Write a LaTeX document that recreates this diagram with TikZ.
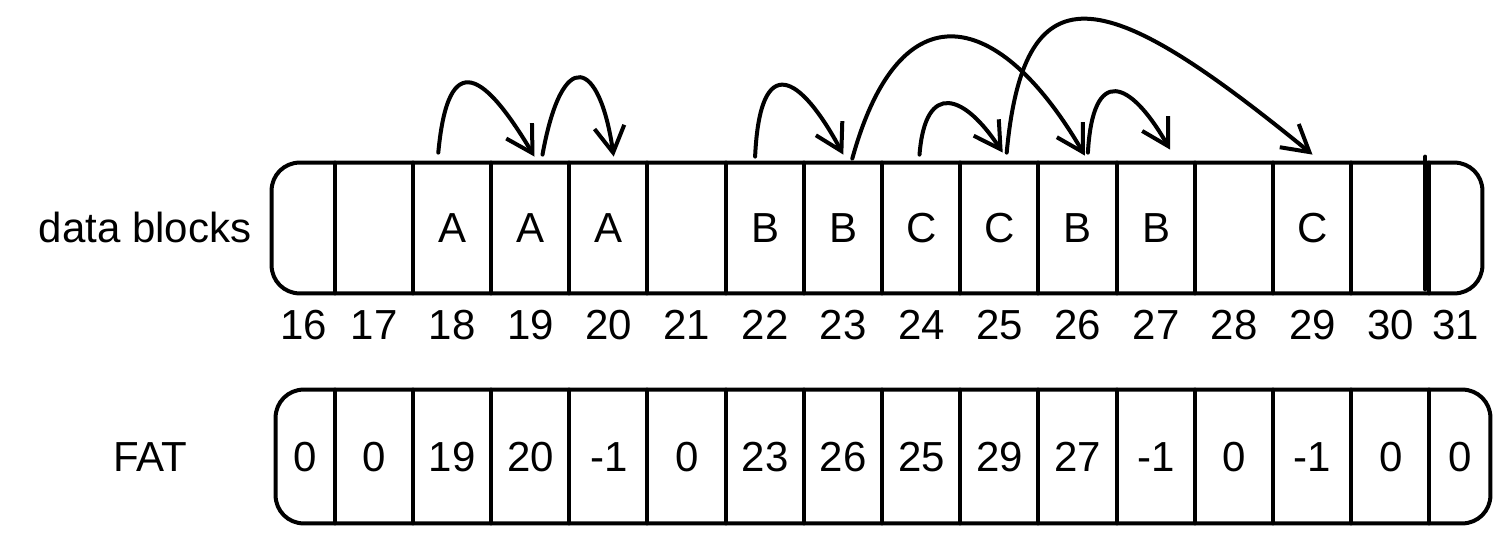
\documentclass[tikz,border=0pt]{standalone}
\usepackage{fontspec}
\setmainfont{Liberation Sans}
\usetikzlibrary{arrows.meta, positioning}

\begin{document}
\begin{tikzpicture}[x=0.5pt, y=-0.5pt,
    line/.style={draw, line width=2pt, line cap=round},
    cell/.style={inner sep=0pt, text height=15pt, text depth=0pt, font=\fontsize{21}{25}\selectfont},
    num/.style={inner sep=2pt, text height=15pt, text depth=0pt, font=\fontsize{21}{25}\selectfont},
    hop/.style={line, -{Straight Barb[length=13pt, width=15pt]}}]
  \useasboundingbox (0,0) rectangle (1512,545);

  % data blocks row
  \foreach \n/\t [count=\i from 0] in {16/{},17/{},18/A,19/A,20/A,21/{},22/B,23/B,
      24/C,25/C,26/B,27/B,28/{},29/C,30/{},31/{}}{
    \pgfmathsetmacro\xl{\i==0 ? 272 : 335+78.2*(\i-1)}
    \pgfmathsetmacro\xr{\i==15 ? 1482 : 335+78.2*\i}
    \pgfmathsetmacro\w{(\xr-\xl)/2}
    \node[cell, minimum width=\w pt, minimum height=65pt] (d\n) at ({(\xl+\xr)/2}, 228) {\t};
    \node[num, below=6pt of d\n] (l\n) {\n};
  }

  % FAT row
  \foreach \v [count=\i from 0] in {0,0,19,20,-1,0,23,26,25,29,27,-1,0,-1,0,0}{
    \pgfmathsetmacro\xl{\i==0 ? 276 : 335+78.2*(\i-1)}
    \pgfmathsetmacro\xr{\i==15 ? 1490 : 335+78.2*\i}
    \pgfmathsetmacro\w{(\xr-\xl)/2}
    \pgfmathtruncatemacro\n{16+\i}
    \node[cell, minimum width=\w pt, minimum height=66.5pt] (f\n) at ({(\xl+\xr)/2}, 456.5) {\v};
  }

  \draw[line, rounded corners=14pt] (d16.north west) rectangle (d31.south east);
  \draw[line, rounded corners=14pt] (f16.north west) rectangle (f31.south east);
  \foreach \n in {17,...,31}{
    \draw[line] (d\n.north west) -- (d\n.south west);
    \draw[line] (f\n.north west) -- (f\n.south west);
  }
  \draw[line] ([shift={(-4,-6)}]d31.north west) -- ([shift={(-4,-4)}]d31.south west);

  \node[num, left=8pt of d16] (data) {data blocks};
  \node[num, left=42pt of f16] (fat) {FAT};

  % chains
  \draw[hop] ([shift={(-14,-10)}]d18.north) .. controls +(10,-108) and +(-49,-82) .. ([shift={(4,-6)}]d19.north);
  \draw[hop] ([shift={(12,-8)}]d19.north) .. controls +(20,-110) and +(-14,-97) .. ([shift={(5,-6)}]d20.north);
  \draw[hop] ([shift={(-10,-6)}]d22.north) .. controls +(5,-107) and +(-43,-80) .. ([shift={(0,-8)}]d23.north);
  \draw[hop] ([shift={(9,-4)}]d23.north) .. controls +(48,-174) and +(-85,-146) .. ([shift={(7,-7)}]d26.north);
  \draw[hop] ([shift={(-2,-8)}]d24.north) .. controls +(6,-75) and +(-38,-58) .. ([shift={(3,-10)}]d25.north);
  \draw[hop] ([shift={(7,-10)}]d25.north) .. controls +(18,-193) and +(-202,-165) .. ([shift={(0,-8)}]d29.north);
  \draw[hop] ([shift={(10,-10)}]d26.north) .. controls +(5,-88) and +(-40,-70) .. ([shift={(14,-13)}]d27.north);
\end{tikzpicture}
\end{document}
